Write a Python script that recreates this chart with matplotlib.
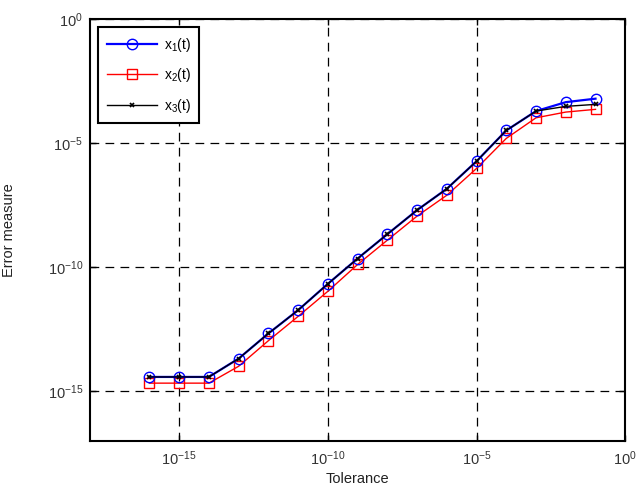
import numpy as np
import matplotlib
matplotlib.use("Agg")
import matplotlib.pyplot as plt
from matplotlib.ticker import FixedLocator, NullLocator

plt.rcParams['font.family'] = ['Liberation Sans', 'DejaVu Sans']
plt.rcParams['mathtext.default'] = 'regular'
plt.rcParams['axes.unicode_minus'] = False

# tolerance exponents (log10)
tol_exp = [-16, -15, -14, -13, -12, -11, -10, -9, -8, -7, -6, -5, -4, -3, -2, -1]

# error measures (log10)
err1_exp = [-14.42, -14.42, -14.42, -13.68, -12.67, -11.73, -10.67, -9.65,
            -8.67, -7.70, -6.84, -5.73, -4.49, -3.71, -3.35, -3.21]
err2_exp = [-14.67, -14.67, -14.67, -13.99, -12.96, -11.98, -10.97, -9.89,
            -8.91, -7.94, -7.10, -6.02, -4.81, -3.98, -3.75, -3.64]
err3_exp = [-14.42, -14.42, -14.42, -13.68, -12.67, -11.73, -10.67, -9.65,
            -8.67, -7.70, -6.84, -5.73, -4.49, -3.71, -3.52, -3.44]

tol = 10.0 ** np.array(tol_exp)
err1 = 10.0 ** np.array(err1_exp)
err2 = 10.0 ** np.array(err2_exp)
err3 = 10.0 ** np.array(err3_exp)

fig = plt.figure(figsize=(6.38, 4.87), dpi=100)
ax = fig.add_axes([0.141, 0.0945, 0.839, 0.8665])

ax.plot(tol, err1, color='#0000ff', lw=1.6, marker='o', ms=7.5, mfc='none',
        mec='#0000ff', mew=1.0, label='x$_1$(t)', zorder=3)
ax.plot(tol, err2, color='#ff0000', lw=1.0, marker='s', ms=7, mfc='none',
        mec='#ff0000', mew=1.0, label='x$_2$(t)', zorder=2)
ax.plot(tol, err3, color='black', lw=1.0, marker='x', ms=3.5, mew=1.2,
        label='x$_3$(t)', zorder=4)

ax.set_xscale('log')
ax.set_yscale('log')
ax.set_xlim(1e-18, 1e0)
ax.set_ylim(1e-17, 1e0)

ax.xaxis.set_major_locator(FixedLocator([1e-15, 1e-10, 1e-5, 1e0]))
ax.yaxis.set_major_locator(FixedLocator([1e-15, 1e-10, 1e-5, 1e0]))
ax.xaxis.set_minor_locator(NullLocator())
ax.yaxis.set_minor_locator(NullLocator())
ax.tick_params(direction='in', length=4, width=1, labelsize=10.5,
               labelcolor='#333333', top=True, right=True)
ax.tick_params(axis='x', pad=6)
ax.tick_params(axis='y', pad=5)

ax.grid(True, which='major', color='black', linestyle=(0, (7, 5)), lw=0.9)
for s in ax.spines.values():
    s.set_linewidth(1.5)

ax.set_xlabel('Tolerance', fontsize=10.5, color='#222222')
ax.set_ylabel('Error measure', fontsize=10.5, color='#222222')
ax.xaxis.set_label_coords(0.5, -0.074)
ax.yaxis.set_label_coords(-0.138, 0.5)

leg = ax.legend(loc='upper left', fontsize=10, fancybox=False, framealpha=1,
                edgecolor='black', borderaxespad=0.6, handlelength=3.6,
                labelspacing=0.9, borderpad=0.6, handletextpad=0.5)
leg.get_frame().set_linewidth(1.5)

plt.savefig('out.png', dpi=100)
